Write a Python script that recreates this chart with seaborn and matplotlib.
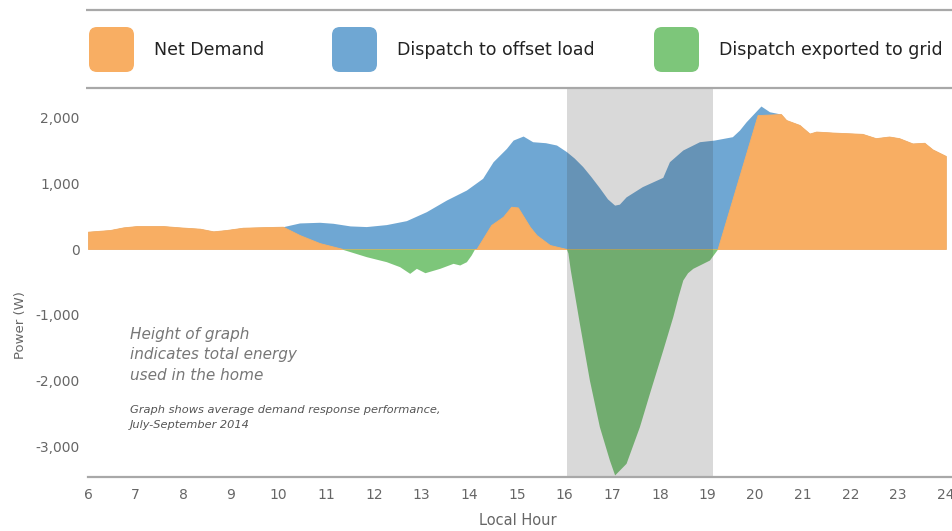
import numpy as np
import matplotlib
matplotlib.use("Agg")
import matplotlib.pyplot as plt
import seaborn as sns
from matplotlib.patches import FancyBboxPatch
from matplotlib.ticker import StrMethodFormatter

# total household load (top of the blue area), W
load_hours = [6.0, 6.46, 6.74, 7.02, 7.58, 7.93, 8.35, 8.63, 8.9, 9.25, 9.75, 10.09,
              10.44, 10.86, 11.14, 11.5, 11.84, 12.26, 12.68, 13.1, 13.52, 13.94,
              14.28, 14.5, 14.78, 14.92, 15.13, 15.33, 15.6, 15.83, 16.04, 16.2,
              16.38, 16.55, 16.73, 16.9, 17.05, 17.15, 17.29, 17.63, 18.06, 18.2,
              18.48, 18.83, 19.14, 19.52, 19.67, 19.81, 20.12, 20.3, 20.54, 20.65,
              20.93, 21.14, 21.28, 21.63, 22.25, 22.53, 22.81, 23.02, 23.3, 23.55,
              23.72, 24.0]
load_watts = [263, 288, 328, 348, 348, 328, 308, 268, 288, 323, 333, 338,
              395, 405, 390, 350, 340, 370, 430, 566, 742, 894,
              1071, 1323, 1525, 1651, 1712, 1626, 1611, 1576, 1475, 1380,
              1250, 1100, 930, 760, 665, 680, 790, 945, 1086, 1323,
              1500, 1626, 1651, 1702, 1803, 1929, 2167, 2080, 2045, 1955,
              1880, 1750, 1780, 1765, 1745, 1680, 1705, 1680, 1600, 1610,
              1510, 1410]

# net demand drawn from the grid (orange), W
net_hours = [6.0, 6.46, 6.74, 7.02, 7.58, 7.93, 8.35, 8.63, 8.9, 9.25, 9.75, 10.09,
             10.44, 10.86, 11.35, 14.15, 14.46, 14.71, 14.88, 15.02, 15.27, 15.41,
             15.69, 16.04, 19.21, 20.05, 20.54, 20.65, 20.93, 21.14, 21.28, 21.63,
             22.25, 22.53, 22.81, 23.02, 23.3, 23.55, 23.72, 24.0]
net_watts = [263, 288, 328, 348, 348, 328, 308, 268, 288, 323, 333, 338,
             212, 90, 0, 0, 364, 490, 641, 630, 338, 212,
             61, 0, 0, 2030, 2045, 1955, 1880, 1750, 1780, 1765,
             1745, 1680, 1705, 1680, 1600, 1610, 1510, 1410]

# battery dispatch exported to the grid (green), W
export_hours = [11.32, 11.84, 12.26, 12.54, 12.75, 12.89, 13.07, 13.38, 13.66, 13.8,
                13.94, 14.04, 14.11, 16.04, 16.07, 16.12, 16.31, 16.52, 16.73, 16.94,
                17.05, 17.29, 17.57, 17.78, 18.06, 18.27, 18.38, 18.48, 18.58, 18.69,
                19.04, 19.21]
export_watts = [0, -116, -192, -268, -369, -293, -359, -293, -217, -242,
                -192, -91, 0, 0, -60, -318, -1126, -1985, -2692, -3197,
                -3424, -3247, -2692, -2187, -1530, -1025, -720, -470, -360, -293,
                -167, 0]

peak_window = (16.05, 19.12)
x_ticks = list(range(6, 25))
y_ticks = [-3000, -2000, -1000, 0, 1000, 2000]

series_names = ['Net Demand', 'Dispatch to offset load', 'Dispatch exported to grid']
colors = {'Net Demand': '#F8AE63', 'Dispatch to offset load': '#6FA7D3',
          'Dispatch exported to grid': '#7DC67A'}

sns.set_theme(style="white")
plt.rcParams['font.family'] = ['DejaVu Sans']
plt.rcParams['axes.unicode_minus'] = False

fig = plt.figure(figsize=(9.53, 5.31), dpi=100)
W, H = 953, 531
ax = fig.add_axes([88 / W, 1 - 477 / H, (W - 88) / W, (477 - 88) / H])

ax.fill_between(load_hours, 0, load_watts, color=colors['Dispatch to offset load'], lw=0)
ax.fill_between(net_hours, 0, net_watts, color=colors['Net Demand'], lw=0.6)
ax.fill_between(export_hours, export_watts, 0, color=colors['Dispatch exported to grid'], lw=0)
ax.axvspan(*peak_window, color='#444444', alpha=0.2, lw=0, zorder=5)

ax.set_xlim(6, 24.15)
ax.set_ylim(-3455, 2440)
ax.set_xticks(x_ticks)
ax.set_yticks(y_ticks)
ax.yaxis.set_major_formatter(StrMethodFormatter('{x:,.0f}'))
ax.tick_params(axis='both', length=0, colors='#666666', labelsize=10)
ax.tick_params(axis='x', pad=8)
ax.tick_params(axis='y', pad=6)
for s in ['left', 'top', 'right']:
    ax.spines[s].set_visible(False)
ax.spines['bottom'].set_color('#A8A8A8')
ax.spines['bottom'].set_linewidth(1.6)
ax.spines['bottom'].set_zorder(6)

ax.set_xlabel('Local Hour', fontsize=10.5, color='#666666')
ax.xaxis.set_label_coords(0.497, -0.092)
ax.xaxis.label.set_va('top')
ax.set_ylabel('Power (W)', fontsize=9.5, color='#666666')
ax.yaxis.set_label_coords(-0.071, 0.39)

ax.text(6.88, -1180, 'Height of graph\nindicates total energy\nused in the home',
        fontsize=11, style='italic', color='#777777', va='top', ha='left',
        linespacing=1.45, zorder=7)
ax.text(6.88, -2370, 'Graph shows average demand response performance,\nJuly-September 2014',
        fontsize=8.2, style='italic', color='#555555', va='top', ha='left',
        linespacing=1.6, zorder=7)

# legend strip across the top
lax = fig.add_axes([0, 1 - 95 / H, 1, 95 / H])
lax.set_xlim(0, W)
lax.set_ylim(95, 0)
lax.axis('off')
for yy in [10, 88]:
    lax.plot([86, W], [yy, yy], color='#A8A8A8', lw=1.6, solid_capstyle='butt')
patch_x = [88, 331, 653]
for px, name in zip(patch_x, series_names):
    lax.add_patch(FancyBboxPatch((px + 1, 27), 45, 45,
                                 boxstyle='round,pad=0,rounding_size=8',
                                 fc=colors[name], ec='none'))
    lax.text(px + 66, 50, name, fontsize=12.5, color='#222222', va='center', ha='left')

fig.savefig('out.png', dpi=100)
